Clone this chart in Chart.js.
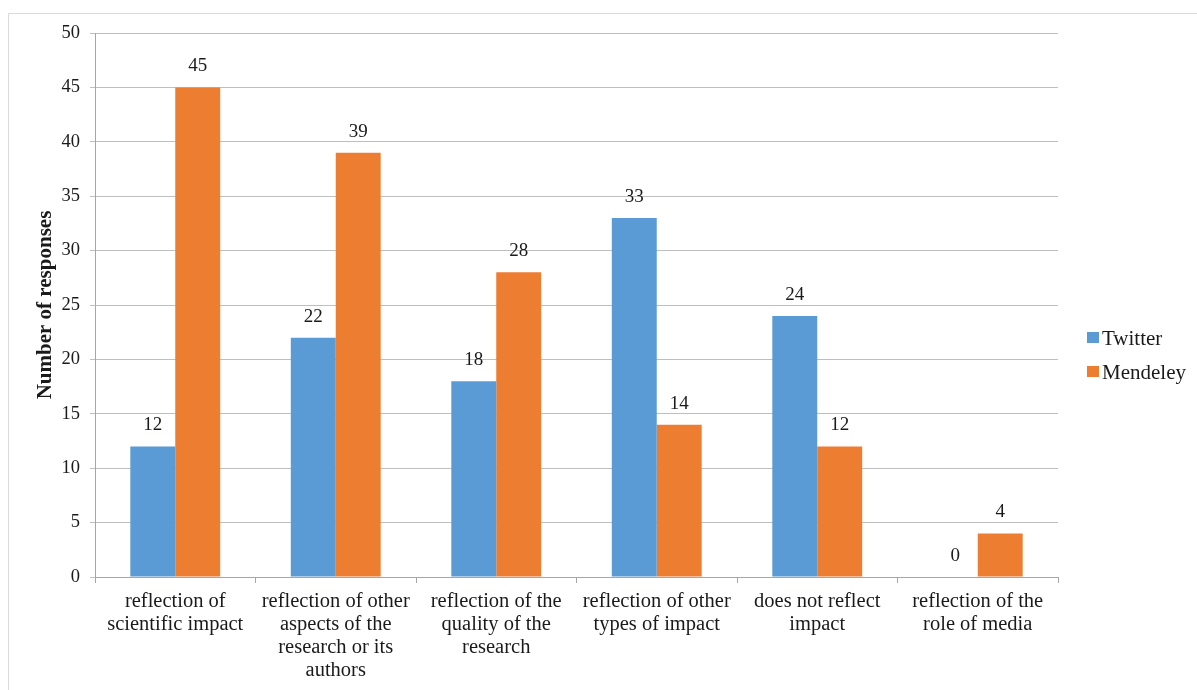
<!DOCTYPE html>
<html>
<head>
<meta charset="utf-8">
<script src="https://cdn.jsdelivr.net/npm/chart.js@4/dist/chart.umd.min.js"></script>
<style>
html,body{margin:0;padding:0;background:#fff;}
canvas{display:block;}
</style>
</head>
<body>
<canvas id="c" width="1197" height="690"></canvas>
<script>
const categories = [
  ["reflection of","scientific impact"],
  ["reflection of other","aspects of the","research or its","authors"],
  ["reflection of the","quality of the","research"],
  ["reflection of other","types of impact"],
  ["does not reflect","impact"],
  ["reflection of the","role of media"]
];
const twitter = [12, 22, 18, 33, 24, 0];
const mendeley = [45, 39, 28, 14, 12, 4];
const seriesNames = ["Twitter", "Mendeley"];
const seriesColors = ["#5B9BD5", "#ED7D31"];
const yTitle = "Number of responses";

const FONT = "'Liberation Serif', 'Times New Roman', serif";
const TXT = "#1a1a1a";

const decorPlugin = {
  id: 'decor',
  beforeDraw(chart) {
    const ctx = chart.ctx;
    ctx.save();
    ctx.fillStyle = '#fff';
    ctx.fillRect(0, 0, chart.width, chart.height);
    ctx.strokeStyle = '#DADADA';
    ctx.lineWidth = 1;
    ctx.beginPath();
    ctx.moveTo(8.5, chart.height + 5);
    ctx.lineTo(8.5, 13.5);
    ctx.lineTo(chart.width + 5, 13.5);
    ctx.stroke();
    ctx.restore();
  },
  afterDatasetsDraw(chart) {
    const ctx = chart.ctx;
    ctx.save();
    ctx.font = "19px " + FONT;
    ctx.fillStyle = TXT;
    ctx.textAlign = 'center';
    ctx.textBaseline = 'middle';
    chart.data.datasets.forEach((ds, i) => {
      const meta = chart.getDatasetMeta(i);
      meta.data.forEach((bar, j) => {
        ctx.fillText(String(ds.data[j]), bar.x, bar.y - 21);
      });
    });
    // legend
    ctx.font = "21px " + FONT;
    const lx = 1087, ly = [338, 372];
    chart.data.datasets.forEach((ds, i) => {
      ctx.fillStyle = ds.backgroundColor;
      ctx.fillRect(lx, ly[i] - 6, 12, 11);
      ctx.fillStyle = TXT;
      ctx.textAlign = 'left';
      ctx.fillText(ds.label, lx + 15, ly[i] + 1);
    });
    ctx.restore();
  }
};

new Chart(document.getElementById('c'), {
  type: 'bar',
  data: {
    labels: categories,
    datasets: [
      { label: seriesNames[0], data: twitter, backgroundColor: seriesColors[0] },
      { label: seriesNames[1], data: mendeley, backgroundColor: seriesColors[1] }
    ]
  },
  options: {
    responsive: false,
    animation: false,
    events: [],
    layout: { padding: { left: 30, right: 139, top: 33, bottom: 0 } },
    datasets: { bar: { categoryPercentage: 0.56, barPercentage: 1.0 } },
    plugins: {
      legend: { display: false },
      tooltip: { enabled: false }
    },
    scales: {
      x: {
        offset: true,
        grid: { drawOnChartArea: false, drawTicks: true, tickLength: 6, color: '#A6A6A6', offset: true },
        border: { color: '#A6A6A6' },
        ticks: {
          color: TXT,
          font: { family: FONT, size: 20.5, lineHeight: 1.13 },
          maxRotation: 0, minRotation: 0, autoSkip: false, padding: 7
        },
        afterFit(s) { s.height = 113; }
      },
      y: {
        min: 0, max: 50,
        ticks: { stepSize: 5, color: TXT, font: { family: FONT, size: 18.5 }, padding: 10 },
        grid: { color: '#BFBFBF', tickLength: 5 },
        border: { color: '#A6A6A6' },
        title: {
          display: true, text: yTitle, color: TXT,
          font: { family: FONT, size: 21, weight: 'bold' },
          padding: { top: 3, bottom: 4 }
        },
        afterFit(s) { s.width = 65; }
      }
    }
  },
  plugins: [decorPlugin]
});
</script>
</body>
</html>
